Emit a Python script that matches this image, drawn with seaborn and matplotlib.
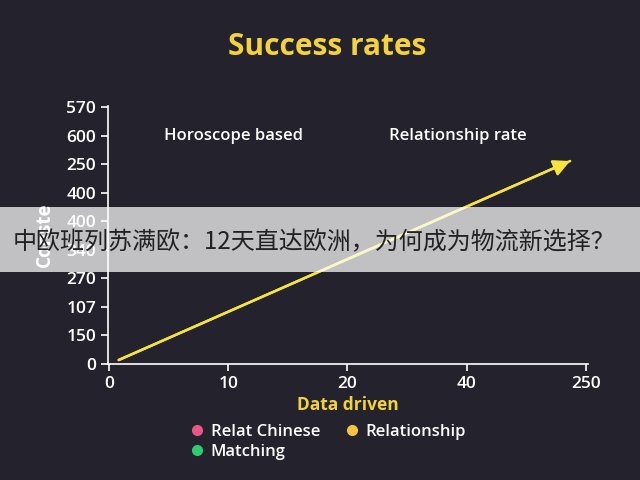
import matplotlib
matplotlib.use("Agg")
import matplotlib.pyplot as plt
from matplotlib.lines import Line2D
from matplotlib.patches import Rectangle
import seaborn as sns
import pandas as pd

# ---- data ----
x_tick_labels = ["0", "10", "20", "40", "250"]
y_tick_labels = ["0", "150", "107", "270", "340", "400", "400", "250", "600", "570"]
arrow_x = [0.08, 3.87]
arrow_y = [0.14, 7.12]
legend_labels = ["Relat Chinese", "Matching", "Relationship"]
legend_colors = ["#e8578a", "#2ecc71", "#f5c242"]
notes = ["Horoscope based", "Relationship rate"]
note_x = [0.46, 2.35]
note_y = [8.0, 8.0]
title = "Success rates"
xlabel = "Data driven"
ylabel = "Conste"
banner = "中欧班列苏满欧：12天直达欧洲，为何成为物流新选择？"

BG = "#24232d"
YEL = "#f3d23a"
LINE = "#f5e43c"

sns.set_style("dark")
plt.rcParams["font.family"] = ["Open Sans", "DejaVu Sans"]

fig = plt.figure(figsize=(6.4, 4.8), dpi=100, facecolor=BG)
ax = fig.add_axes([108 / 640, 1 - 364 / 480, (588 - 108) / 640, (364 - 106) / 480])
ax.set_facecolor(BG)

df = pd.DataFrame({"x": arrow_x, "y": arrow_y})
sns.lineplot(data=df, x="x", y="y", ax=ax, color=LINE, lw=1.8)
ax.annotate("", xy=(arrow_x[1], arrow_y[1]), xytext=(arrow_x[0], arrow_y[0]),
            arrowprops=dict(arrowstyle="-|>", color=LINE, lw=1.8, mutation_scale=25,
                            shrinkA=0, shrinkB=0))

ax.set_xlim(-0.01, 4.02)
ax.set_ylim(0, 9.05)
ax.set_xticks(range(len(x_tick_labels)))
ax.set_xticklabels(x_tick_labels)
ax.set_yticks(range(len(y_tick_labels)))
ax.set_yticklabels(y_tick_labels)
ax.grid(False)
for s in ["top", "right"]:
    ax.spines[s].set_visible(False)
for s in ["left", "bottom"]:
    ax.spines[s].set_visible(True)
    ax.spines[s].set_color("white")
    ax.spines[s].set_linewidth(1.2)
ax.tick_params(axis="both", colors="white", labelsize=12.5, width=1.2, length=5,
               bottom=True, left=True)
for lab in ax.get_xticklabels() + ax.get_yticklabels():
    lab.set_fontweight("semibold")
    lab.set_color("white")

ax.set_xlabel(xlabel, color=YEL, fontsize=12.5, fontweight="bold", labelpad=3)
ax.set_ylabel(ylabel, color="white", fontsize=13.5, fontweight="bold", labelpad=8)

for t, xx, yy in zip(notes, note_x, note_y):
    ax.text(xx, yy, t, color="white", fontsize=12, fontweight="semibold", va="center")

fig.text(0.512, 0.903, title, color=YEL, fontsize=21.5, fontweight="bold",
         ha="center", va="center")

handles = [Line2D([], [], marker="o", ls="", color=c, markersize=7) for c in legend_colors]
fig.legend(handles, legend_labels, loc="upper left", bbox_to_anchor=(0.272, 0.148),
           ncol=2, frameon=False, labelcolor="white", handletextpad=0.3,
           columnspacing=1.4, labelspacing=0.22, prop={"size": 12, "weight": "semibold"},
           handlelength=1.0)

# overlay banner
fig.patches.append(Rectangle((0, 1 - 272 / 480), 1, 65 / 480, transform=fig.transFigure,
                             facecolor="white", alpha=0.72, edgecolor="none", zorder=10))
fig.text(0.491, 1 - 242 / 480, banner, color="#222222", fontsize=17.3, ha="center",
         va="center", family=["Noto Sans CJK SC", "DejaVu Sans"], zorder=11)

fig.savefig("out.png", dpi=100, facecolor=BG)
